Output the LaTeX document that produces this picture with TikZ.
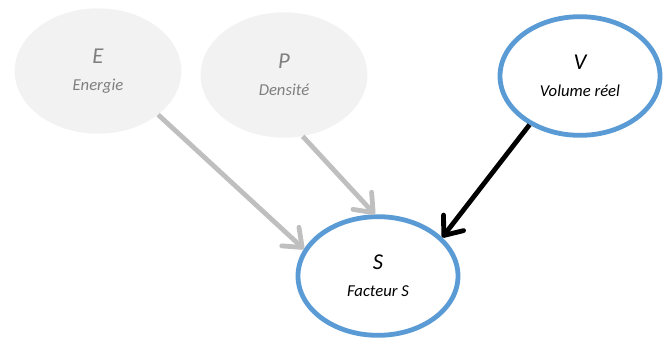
\documentclass[tikz,border=0pt]{standalone}
\usepackage{fontspec}
\setmainfont{Carlito}
\usetikzlibrary{arrows.meta, shapes.geometric}
\definecolor{hidfill}{HTML}{F2F2F2}
\definecolor{hidtext}{HTML}{7F7F7F}
\definecolor{hidarrow}{HTML}{BFBFBF}
\definecolor{obsblue}{HTML}{5B9BD5}
\tikzset{
  varnode/.style = {ellipse, inner sep=0pt, align=center,
                    font=\itshape\fontsize{12.5}{20}\selectfont},
  hidvar/.style  = {varnode, fill=hidfill, text=hidtext,
                    minimum width=125pt, minimum height=94pt},
  obsvar/.style  = {varnode, draw=obsblue, fill=white, text=black, line width=3.6pt,
                    minimum width=120pt, minimum height=89pt},
  hidedge/.style = {draw=hidarrow, line width=3.6pt,
                    -{Straight Barb[length=12pt, width=19pt, round]}},
  obsedge/.style = {draw=black, line width=3.6pt,
                    -{Straight Barb[length=12pt, width=19pt, round]}},
}
\newcommand{\varsym}[1]{{\fontsize{17}{20}\selectfont #1}}

\begin{document}
\begin{tikzpicture}[x=0.75pt, y=-0.75pt]
  \useasboundingbox (0,0) rectangle (663,337);
  \node[hidvar] (E) at (98,71)  {\varsym{E}\\Energie};
  \node[hidvar] (P) at (284,75) {\varsym{P}\\Densité};
  \node[obsvar] (V) at (580,76) {\varsym{V}\\Volume réel};
  \node[obsvar] (S) at (378,276) {\varsym{S}\\Facteur S};
  \draw[hidedge] (E.-36) -- (S.160);
  \draw[hidedge] (P.-73) -- (S.93);
  \draw[obsedge] (V.-136) -- (S.31);
\end{tikzpicture}
\end{document}
